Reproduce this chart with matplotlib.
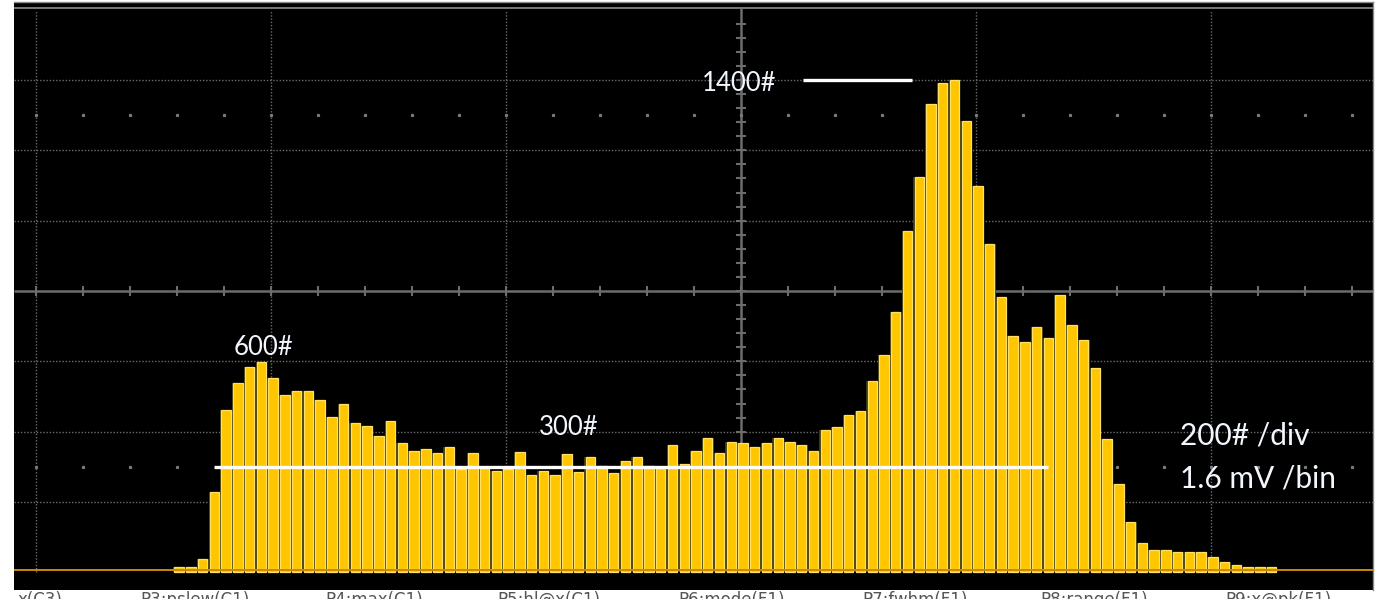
import matplotlib
matplotlib.use("Agg")
import matplotlib.pyplot as plt
import numpy as np

# ---- data (histogram counts per bin, 1.6 mV/bin) ----
counts = [15, 15, 37, 228, 462, 537, 585, 597, 553, 505,
          516, 516, 489, 442, 479, 425, 415, 388, 431, 367,
          345, 351, 340, 356, 293, 340, 300, 287, 293, 341,
          276, 287, 276, 336, 286, 329, 301, 282, 316, 329,
          301, 297, 361, 308, 346, 383, 339, 371, 367, 356,
          367, 383, 371, 362, 345, 404, 414, 446, 458, 543,
          618, 740, 970, 1125, 1333, 1391, 1401, 1284, 1098, 934,
          783, 672, 655, 698, 665, 788, 703, 661, 580, 378,
          250, 143, 84, 64, 64, 58, 58, 58, 43, 30,
          20, 15, 14, 14]
bins = np.arange(len(counts))

annot_labels = ["1400#", "600#", "300#"]
annot_levels = [1400, 300]
scale_labels = ["200# /div", "1.6 mV /bin"]
param_labels = ["x(C3)", "P3:pslew(C1)", "P4:max(C1)", "P5:hl@x(C1)",
                "P6:mode(F1)", "P7:fwhm(F1)", "P8:range(F1)", "P9:x@pk(F1)"]

# ---- figure ----
W, H = 1384, 599
fig = plt.figure(figsize=(W / 100, H / 100), dpi=100, facecolor="white")
ax = fig.add_axes([14 / W, 1 - 590 / H, (1373 - 14) / W, (590 - 2) / H])
ax.set_facecolor("black")
ax.set_xlim(-14.06, 101.63)
ax.set_ylim(-50.3, 1621.8)
ax.set_xticks([])
ax.set_yticks([])
for s in ["left", "bottom"]:
    ax.spines[s].set_visible(False)
for s in ["top", "right"]:
    ax.spines[s].set_color("#8a8a8a")
    ax.spines[s].set_linewidth(1.0)

gcol = "#6c6c6c"
xmin, xmax = ax.get_xlim()
center_x = 47.8
div_x = 20.0
vlines_x = center_x + div_x * np.arange(-3, 3)

# dotted graticule
ax.hlines([200, 400, 600, 1000, 1200, 1400], xmin, xmax, colors=gcol,
          linestyles=(0, (1, 1.3)), lw=1.0, zorder=1)
ax.vlines([v for v in vlines_x if abs(v - center_x) > 1e-6], 0, 1600,
          colors=gcol, linestyles=(0, (1, 1.3)), lw=1.0, zorder=1)
# top border
ax.hlines(1604, xmin, xmax, colors="#7a7a7a", lw=1.4, zorder=1)
# center cross with ticks
ax.hlines(800, xmin, xmax, colors=gcol, lw=1.8, zorder=1)
ax.vlines(center_x, 0, 1604, colors=gcol, lw=1.8, zorder=1)
tx = center_x + 4 * np.arange(-16, 14)
tx = tx[(tx > xmin) & (tx < xmax)]
ax.plot(tx, np.full(len(tx), 800), ls="none", marker="|", ms=7, mew=1.5,
        color=gcol, zorder=1)
ty = np.arange(40, 1600, 40)
ax.plot(np.full(len(ty), center_x), ty, ls="none", marker="_", ms=7, mew=1.5,
        color=gcol, zorder=1)
# dot rows
for yy in (300, 1300):
    ax.plot(tx, np.full(len(tx), yy), ls="none", marker="s", ms=1.3,
            color="#7a7a7a", zorder=1)

# histogram bars
ax.bar(bins, counts, width=1.0, color="#3b3912", zorder=3)
ax.bar(bins, counts, width=0.8, color="#FFC600", edgecolor="#FFE066",
       linewidth=0.9, zorder=4)
# baseline
ax.hlines(6, xmin, xmax, colors="#C98A00", lw=1.4, zorder=5)

# annotation lines
ax.hlines(annot_levels[1], 3.0, 74.0, colors="white", lw=2.4, zorder=6)
ax.hlines(annot_levels[0], 53.1, 62.4, colors="white", lw=2.4, zorder=6)


def px(x, y):
    return x / W, 1 - y / H


tcol = "#F2F7FF"
fig.text(*px(776, 90.5), annot_labels[0], ha="right", va="baseline",
         fontsize=18.5, family="Lato", color=tcol)
fig.text(*px(234, 355), annot_labels[1], ha="left", va="baseline",
         fontsize=18.5, family="Lato", color=tcol)
fig.text(*px(539, 435), annot_labels[2], ha="left", va="baseline",
         fontsize=18.5, family="Lato", color=tcol)
fig.text(*px(1180, 445), scale_labels[0], ha="left", va="baseline",
         fontsize=21.5, family="Lato", color=tcol)
fig.text(*px(1180, 487.7), scale_labels[1], ha="left", va="baseline",
         fontsize=21.5, family="Lato", color=tcol)

param_x = [18, 140, 325, 497, 678, 862, 1040, 1225]
for x, lab in zip(param_x, param_labels):
    fig.text(*px(x, 591), lab, ha="left", va="top", fontsize=12,
             family="DejaVu Sans", color="#555555")

fig.savefig("out.png", dpi=100, facecolor="white")
